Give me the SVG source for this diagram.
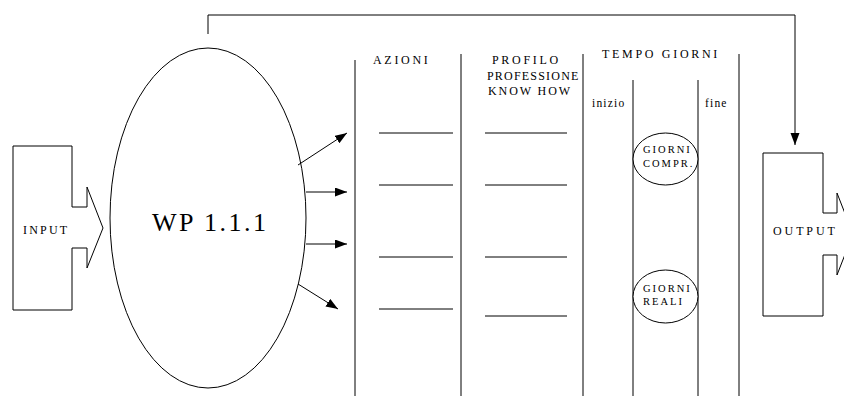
<svg xmlns="http://www.w3.org/2000/svg" width="844" height="396" viewBox="0 0 844 396">
<style>
.s{fill:none;stroke:#000;stroke-width:1}
.w{fill:#fff;stroke:#000;stroke-width:1}
.t{font-family:"Liberation Serif","Times New Roman",serif;fill:#000}
.h{font-size:12px}
.sm{font-size:10.5px;letter-spacing:2px}
</style>
<defs>
<marker id="ah" markerUnits="userSpaceOnUse" markerWidth="13" markerHeight="10" refX="12" refY="4.5" orient="auto">
<path d="M0,0 L12,4.5 L0,9 z" fill="#000"/>
</marker>
</defs>
<rect width="844" height="396" fill="#fff"/>
<g id="input">
<path class="s" d="M13,146 H72 V207 H87 V187 L103,228 L87,268 V248 H72 V310 H13 Z"/>
<text class="t h" x="23" y="234" style="letter-spacing:2.2px">INPUT</text>
</g>
<g id="wp">
<ellipse class="s" cx="208" cy="218" rx="98" ry="170"/>
<text class="t" x="152" y="231" style="font-size:26px;letter-spacing:2.5px">WP 1.1.1</text>
</g>
<g id="output">
<path class="s" d="M763,153 H823 V213 H837 V193 L853,234 L837,275 V255 H823 V316 H763 Z"/>
<text class="t h" x="773" y="235" style="letter-spacing:2.9px">OUTPUT</text>
</g>
<g id="table">
<line class="s" x1="355" y1="60" x2="355" y2="396"/>
<line class="s" x1="461" y1="54" x2="461" y2="396"/>
<line class="s" x1="583" y1="54" x2="583" y2="396"/>
<line class="s" x1="739" y1="54" x2="739" y2="396"/>
<line class="s" x1="633" y1="80" x2="633" y2="396"/>
<line class="s" x1="698" y1="80" x2="698" y2="396"/>
<line class="s" x1="379" y1="133" x2="453" y2="133"/>
<line class="s" x1="379" y1="185" x2="453" y2="185"/>
<line class="s" x1="379" y1="257" x2="453" y2="257"/>
<line class="s" x1="379" y1="309" x2="453" y2="309"/>
<line class="s" x1="485" y1="133" x2="567" y2="133"/>
<line class="s" x1="485" y1="185" x2="567" y2="185"/>
<line class="s" x1="485" y1="257" x2="567" y2="257"/>
<line class="s" x1="485" y1="316" x2="567" y2="316"/>
<text class="t h" x="373" y="64" style="letter-spacing:2.7px">AZIONI</text>
<text class="t h" x="492" y="64" style="letter-spacing:2.7px">PROFILO</text>
<text class="t h" x="487" y="79.5" style="letter-spacing:1.2px">PROFESSIONE</text>
<text class="t h" x="488" y="95" style="letter-spacing:1.9px">KNOW HOW</text>
<text class="t h" x="602" y="58" style="letter-spacing:2.7px">TEMPO GIORNI</text>
<text class="t" x="592" y="107" style="font-size:11.5px;letter-spacing:1.2px">inizio</text>
<text class="t" x="705" y="107" style="font-size:11.5px;letter-spacing:1.2px">fine</text>
</g>
<g id="giorni-compr">
<ellipse class="w" cx="665.5" cy="159" rx="32.5" ry="26"/>
<text class="t sm" x="643" y="153">GIORNI</text>
<text class="t sm" x="643" y="167">COMPR.</text>
</g>
<g id="giorni-reali">
<ellipse class="w" cx="665.5" cy="296.5" rx="32.5" ry="26.5"/>
<text class="t sm" x="643" y="292">GIORNI</text>
<text class="t sm" x="643" y="305">REALI</text>
</g>
<g id="connectors">
<line class="s" x1="298" y1="165" x2="347" y2="133" marker-end="url(#ah)"/>
<line class="s" x1="306" y1="192" x2="347" y2="192" marker-end="url(#ah)"/>
<line class="s" x1="306" y1="244" x2="347" y2="244" marker-end="url(#ah)"/>
<line class="s" x1="298" y1="284" x2="338" y2="309" marker-end="url(#ah)"/>
<path class="s" d="M208,34 V15 H795 V145" marker-end="url(#ah)"/>
</g>
</svg>
